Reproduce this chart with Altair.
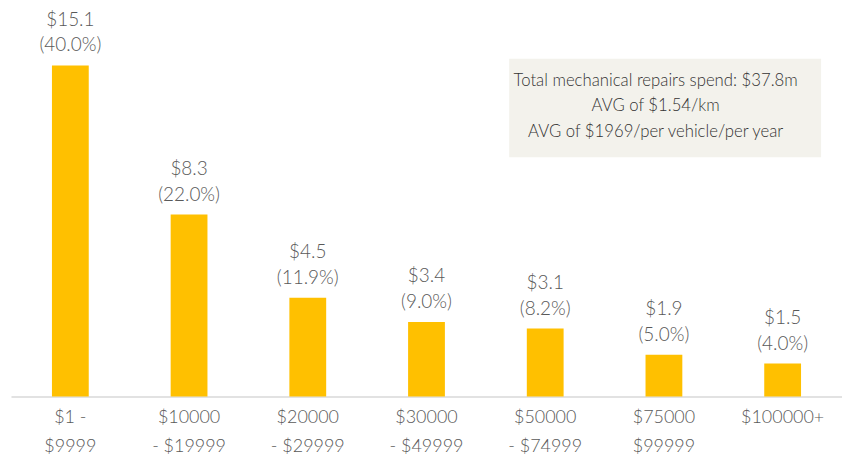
import altair as alt
import pandas as pd

categories = ["$1 -\n$9999", "$10000\n- $19999", "$20000\n- $29999", "$30000\n- $49999",
              "$50000\n- $74999", "$75000\n$99999", "$100000+"]
spend = [15.1, 8.3, 4.5, 3.4, 3.1, 1.9, 1.5]
share = [40.0, 22.0, 11.9, 9.0, 8.2, 5.0, 4.0]
note_lines = ["Total mechanical repairs spend: $37.8m",
              "AVG of $1.54/km",
              "AVG of $1969/per vehicle/per year"]

FONT = "Lato"
GREY = "#595959"

df = pd.DataFrame({
    "cat": categories,
    "spend": spend,
    "share": share,
})
df["vlabel"] = ["$" + f"{v:.1f}" for v in spend]
df["plabel"] = ["(" + f"{p:.1f}" + "%)" for p in share]

x = alt.X("cat:N", sort=None, title=None,
          scale=alt.Scale(paddingInner=0.69, paddingOuter=0.345),
          axis=alt.Axis(labelAngle=0, ticks=False, domainColor="#D9D9D9", domainWidth=1.5,
                        labelFontSize=18, labelColor=GREY, labelFont=FONT, labelFontWeight=300,
                        labelPadding=12, labelLineHeight=29,
                        labelExpr="split(datum.label, '\\n')"))
y = alt.Y("spend:Q", axis=None, scale=alt.Scale(domain=[0, 389 / 22], nice=False, zero=True))

base = alt.Chart(df)
bars = base.mark_bar(color="#FFC000").encode(x=x, y=y)
vtext = base.mark_text(font=FONT, fontSize=19, fontWeight=300, color=GREY, baseline="middle", yOffset=-46).encode(
    x=x, y=y, text="vlabel:N")
ptext = base.mark_text(font=FONT, fontSize=19, fontWeight=300, color=GREY, baseline="middle", yOffset=-20).encode(
    x=x, y=y, text="plabel:N")

box = alt.Chart(alt.Data(values=[{"a": 1}])).mark_rect(color="#F3F2EC").encode(
    x=alt.value(500), x2=alt.value(813), y=alt.value(50), y2=alt.value(149))
note = alt.Chart(pd.DataFrame({"t": note_lines, "i": [0, 1, 2]})).mark_text(
    font=FONT, fontSize=16.8, fontWeight=300, color="#333333", baseline="middle", align="center").encode(
    x=alt.value(647), y=alt.Y("i:O", axis=None, scale=alt.Scale(range=[72, 124], padding=0)),
    text="t:N")

chart = alt.layer(box, bars, vtext, ptext, note).resolve_scale(y="independent").properties(
    width=834, height=389,
    padding={"left": 3, "top": 0, "right": 0, "bottom": 5},
).configure_view(stroke=None)

chart.save("out.html", embed_options={"renderer": "svg", "actions": False})
